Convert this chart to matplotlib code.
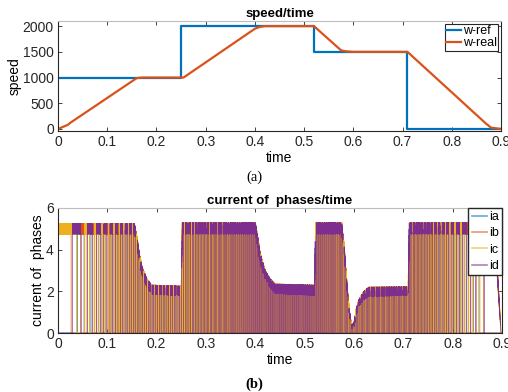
import numpy as np
import matplotlib
matplotlib.use('Agg')
import matplotlib.pyplot as plt

plt.rcParams['font.family'] = ['Liberation Sans', 'DejaVu Sans']
plt.rcParams['path.simplify'] = False

# --- speed data ---
ref_t = [0, 0.25, 0.25, 0.52, 0.52, 0.71, 0.71, 0.9]
ref_w = [1000, 1000, 2000, 2000, 1500, 1500, 0, 0]

real_t = [0, 0.02, 0.025, 0.16, 0.17, 0.255, 0.40, 0.41, 0.42, 0.52, 0.575, 0.585, 0.60, 0.71, 0.87, 0.88, 0.9]
real_w = [0, 80, 120, 990, 1000, 1000, 1950, 1985, 2000, 2000, 1530, 1510, 1500, 1500, 100, 25, 0]

# --- phase current envelope (chopping band) ---
env_t = [0, 0.155, 0.16, 0.165, 0.17, 0.175, 0.18, 0.19, 0.25, 0.252, 0.40, 0.405, 0.41, 0.42,
         0.43, 0.44, 0.52, 0.522, 0.575, 0.58, 0.585, 0.59, 0.595, 0.60, 0.605, 0.61, 0.62, 0.63,
         0.71, 0.712, 0.885, 0.898, 0.9]
env_hi = [5.25, 5.25, 4.6, 3.8, 3.2, 2.9, 2.6, 2.3, 2.25, 5.3, 5.3, 4.6, 3.8, 3.0,
          2.6, 2.35, 2.3, 5.3, 5.3, 4.2, 2.6, 1.2, 0.4, 0.5, 1.2, 1.6, 2.0, 2.2,
          2.22, 5.3, 5.3, 0.0, 0.0]
env_lo = [4.75, 4.75, 4.2, 3.4, 2.8, 2.5, 2.2, 1.85, 1.8, 4.75, 4.75, 4.1, 3.3, 2.6,
          2.2, 1.9, 1.8, 4.75, 4.75, 3.8, 2.3, 1.0, 0.2, 0.3, 0.9, 1.3, 1.6, 1.75,
          1.8, 4.75, 4.75, 0.0, 0.0]

phase_names = ['ia', 'ib', 'ic', 'id']
phase_colors = ['#0072BD', '#D95319', '#EDB120', '#7E2F8E']
phase_lw = [0.5, 0.5, 0.8, 0.45]
strokes_per_rev = 8.0
duty = 0.45
f_chop = 5000.0

# build the phase currents from the speed and the envelope
t = np.linspace(0, 0.9, 120001)
dt = t[1] - t[0]
w = np.interp(t, real_t, real_w)
theta = np.cumsum(w / 60.0) * dt * strokes_per_rev
hi = np.interp(t, env_t, env_hi)
lo = np.interp(t, env_t, env_lo)
tri = np.abs(((t * f_chop) % 1.0) * 2 - 1)
band = lo + (hi - lo) * tri

currents = []
for k in range(4):
    pos = (theta + 0.5 - k * 0.25) % 1.0
    on = pos < duty
    currents.append(np.where(on, band, 0.0))

fig = plt.figure(figsize=(5.08, 3.92), dpi=100)
ticks_x = ['0', '0.1', '0.2', '0.3', '0.4', '0.5', '0.6', '0.7', '0.8', '0.9']

# --- (a) speed ---
ax1 = fig.add_axes([0.1142, 0.6658, 0.872, 0.2806])
ax1.plot(ref_t, ref_w, color='#0072BD', lw=1.6, label='w-ref')
ax1.plot(real_t, real_w, color='#D95319', lw=1.6, label='w-real')
ax1.set_xlim(0, 0.9)
ax1.set_ylim(-40, 2100)
ax1.set_xticks(np.arange(0, 0.91, 0.1))
ax1.set_xticklabels(ticks_x)
ax1.set_yticks([0, 500, 1000, 1500, 2000])
ax1.set_title('speed/time', fontsize=9.5, fontweight='bold', pad=3)
ax1.set_ylabel('speed', fontsize=10, labelpad=1)
ax1.set_xlabel('time', fontsize=10, labelpad=1)
leg1 = ax1.legend(loc='upper right', fontsize=9, handlelength=1.2, handletextpad=0.1,
                  borderpad=0.1, labelspacing=0.0, fancybox=False, framealpha=1,
                  edgecolor='#262626', borderaxespad=0.25)
leg1.get_frame().set_linewidth(0.8)
fig.text(0.5, 1 - 177 / 392, '(a)', family='Liberation Serif', fontsize=10.5,
         ha='center', va='center')

# --- (b) phase currents ---
ax2 = fig.add_axes([0.1142, 0.1505, 0.874, 0.319])
for k in range(4):
    ax2.plot(t, currents[k], color=phase_colors[k], lw=phase_lw[k], label=phase_names[k])
ax2.set_xlim(0, 0.9)
ax2.set_ylim(0, 6)
ax2.set_xticks(np.arange(0, 0.91, 0.1))
ax2.set_xticklabels(ticks_x)
ax2.set_yticks([0, 2, 4, 6])
ax2.set_title('current of  phases/time', fontsize=9.5, fontweight='bold', pad=3)
ax2.set_ylabel('current of  phases', fontsize=10, labelpad=1)
ax2.set_xlabel('time', fontsize=10, labelpad=1)
leg2 = ax2.legend(loc='upper right', fontsize=9, handlelength=1.2, handletextpad=0.2,
                  borderpad=0.25, labelspacing=0.35, fancybox=False, framealpha=1,
                  edgecolor='#262626', borderaxespad=0.0)
leg2.get_frame().set_linewidth(1.0)
for h in leg2.get_lines():
    h.set_linewidth(1.2)
    h.set_alpha(0.6)
fig.text(0.5, 1 - 384 / 392, '(b)', family='Liberation Serif', fontsize=10.5,
         fontweight='bold', ha='center', va='center')

for ax in (ax1, ax2):
    ax.tick_params(direction='in', top=True, right=True, labelsize=10, length=3,
                   width=0.6, colors='#262626', pad=3)
    for s in ('left', 'bottom', 'right'):
        ax.spines[s].set_color('#262626')
        ax.spines[s].set_linewidth(0.8)
    ax.spines['top'].set_color('#bdbdbd')
    ax.spines['top'].set_linewidth(0.8)

fig.savefig('out.png', dpi=100)
